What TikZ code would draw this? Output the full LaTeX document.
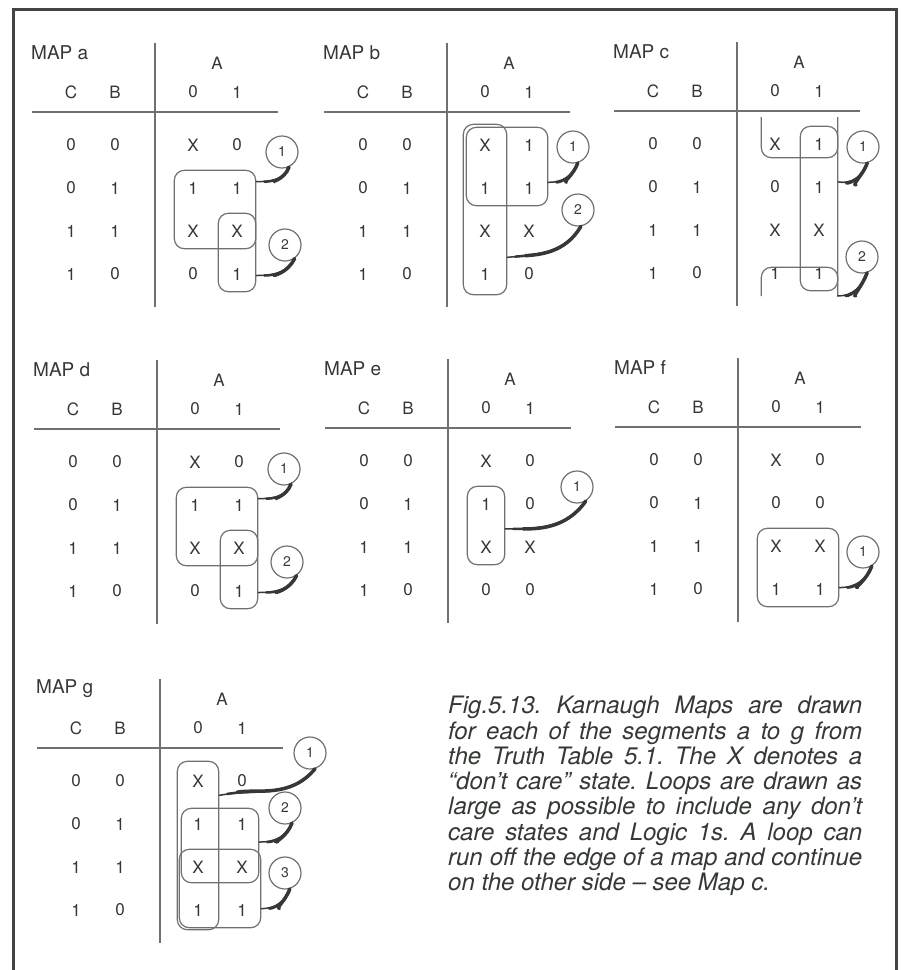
\documentclass[tikz,border=0pt]{standalone}
\usepackage{fontspec}
\setmainfont{TeX Gyre Heros}
\usepackage{tikz}
\usetikzlibrary{fit,calc}
\definecolor{inkgray}{HTML}{343934}
\definecolor{linegray}{HTML}{6E726E}
\definecolor{framegray}{HTML}{3F473F}
\newcommand{\tabfont}{\fontsize{17}{20}\selectfont}
\newcommand{\titlefont}{\fontsize{19}{22}\selectfont}
\newcommand{\tagfont}{\fontsize{14}{16}\selectfont}
\newcommand{\capfont}{\fontsize{24}{25.3}\selectfont\itshape\frenchspacing}

% #1 map letter, (#2,#3) where the divider meets the rule, #4 cell values row by row
\newcommand{\kmap}[4]{%
  \node[maptitle] (#1-title) at (#2-124,#3-59) {MAP #1};
  \node[hdr] (#1-A) at (#2+62,#3-49) {A};
  \node[hdr] (#1-C) at (#2-84,#3-20) {C};
  \node[hdr] (#1-B) at (#2-40,#3-20) {B};
  \node[hdr] (#1-h0) at (#2+38,#3-20) {0};
  \node[hdr] (#1-h1) at (#2+82,#3-20) {1};
  \draw[tabline] (#2-123,#3) -- (#2+123,#3);
  \draw[tabline] (#2,#3-69) -- (#2,#3+195);
  \foreach \cc/\bb [count=\row from 0] in {0/0,0/1,1/1,1/0} {
    \node[hdr] (#1-c\row) at (#2-84,#3+33+43*\row) {\cc};
    \node[hdr] (#1-b\row) at (#2-40,#3+33+43*\row) {\bb};
  }
  \foreach \p/\q [count=\row from 0] in {#4} {
    \node[kcell] (#1-\row-0) at (#2+38,#3+33+43*\row) {\p};
    \node[kcell] (#1-\row-1) at (#2+82,#3+33+43*\row) {\q};
  }
}

\begin{document}
\begin{tikzpicture}[x=1pt,y=-1pt,
  hdr/.style={text=inkgray,font=\tabfont,inner sep=0},
  kcell/.style={hdr,minimum width=37,minimum height=35},
  maptitle/.style={hdr,font=\titlefont,anchor=west},
  tabline/.style={linegray,line width=1.3},
  loopbox/.style={draw=linegray,line width=1.2,rounded corners=10,inner sep=0},
  loopline/.style={linegray,line width=1.2,rounded corners=10},
  tagc/.style={draw=linegray,line width=1.2,circle,minimum size=32,inner sep=0,text=inkgray,font=\tagfont},
  lead/.style={inkgray,line width=1.5,line cap=round,
    postaction={draw,line width=2.5,shorten <=8},
    postaction={draw,line width=3.5,shorten <=18}},
  border/.style={framegray,line width=3},
  capt/.style={text=inkgray,font=\capfont,text width=414,align=justify,inner sep=0}]
  \useasboundingbox (0,0) rectangle (902,970);
  \draw[border] (13,970) -- (13,9) -- (896,9) -- (896,970);

  % top row
  \kmap{a}{155}{112}{X/0,1/1,X/X,0/1}
  \node[loopbox,fit=(a-1-0)(a-2-1)] (a-l1) {};
  \node[loopbox,fit=(a-2-1)(a-3-1)] (a-l2) {};
  \node[tagc] (a-t1) at (282,152) {1};
  \node[tagc] (a-t2) at (285,245) {2};
  \draw[lead] (a-l1.34) to[out=0,in=-110] (a-t1.-65);
  \draw[lead] (a-l2.-50) to[out=0,in=-115] (a-t2.-55);

  \kmap{b}{447}{112}{X/1,1/1,X/X,1/0}
  \node[loopbox,fit=(b-0-0)(b-1-1)] (b-l1) {};
  \node[loopbox,inner sep=3,fit=(b-0-0)(b-3-0)] (b-l2) {};
  \node[tagc] (b-t1) at (573,147) {1};
  \node[tagc] (b-t2) at (578,210) {2};
  \draw[lead] (b-l1.-21) to[out=0,in=-110] (b-t1.-73);
  \draw[lead] (b-l2.-65) to[out=5,in=-120] (b-t2.-80);

  \kmap{c}{737}{111}{X/1,0/1,X/X,1/1}
  \node[loopbox,fit=(c-0-1)(c-3-1)] (c-l1) {};
  \draw[loopline] ($(c-0-0.west)+(5,-27)$) -- ($(c-0-0.south west)+(5,-4)$)
    -- ($(c-0-1.south east)+(0,-4)$) -- ($(c-0-1.east)+(0,-27)$);
  \coordinate (c-w2) at ($(c-3-1.east)+(0,23)$);
  \draw[loopline] ($(c-3-0.west)+(5,23)$) -- ($(c-3-0.north west)+(5,12)$)
    -- ($(c-3-1.north east)+(0,12)$) -- (c-w2);
  \node[tagc] (c-t1) at (863,147) {1};
  \node[tagc] (c-t2) at (862,257) {2};
  \draw[lead] (c-l1.54) to[out=-10,in=-110] (c-t1.-75);
  \draw[lead] (c-w2) to[out=0,in=-110] (c-t2.-72);

  % middle row
  \kmap{d}{157}{429}{X/0,1/1,X/X,0/1}
  \node[loopbox,fit=(d-1-0)(d-2-1)] (d-l1) {};
  \node[loopbox,fit=(d-2-1)(d-3-1)] (d-l2) {};
  \node[tagc] (d-t1) at (284,469) {1};
  \node[tagc] (d-t2) at (287,562) {2};
  \draw[lead] (d-l1.34) to[out=0,in=-110] (d-t1.-65);
  \draw[lead] (d-l2.-50) to[out=0,in=-115] (d-t2.-55);

  \kmap{e}{448}{428}{X/0,1/0,X/X,0/0}
  \node[loopbox,fit=(e-1-0)(e-2-0)] (e-l1) {};
  \node[tagc] (e-t1) at (577,487) {1};
  \draw[lead] (e-l1.-10) to[out=0,in=-125] (e-t1.-58);

  \kmap{f}{738}{427}{X/0,0/0,X/X,1/1}
  \node[loopbox,fit=(f-2-0)(f-3-1)] (f-l1) {};
  \node[tagc] (f-t1) at (863,552) {1};
  \draw[lead] (f-l1.-26) to[out=0,in=-110] (f-t1.-58);

  % bottom row
  \kmap{g}{160}{748}{X/0,1/1,X/X,1/1}
  \node[loopbox,inner sep=2,fit=(g-0-0)(g-3-0)] (g-l1) {};
  \node[loopbox,inner sep=-2,fit=(g-1-0)(g-2-1)] (g-l2) {};
  \node[loopbox,fit=(g-2-0)(g-3-1)] (g-l3) {};
  \node[tagc] (g-t1) at (310,753) {1};
  \node[tagc] (g-t2) at (285,808) {2};
  \node[tagc] (g-t3) at (285,873) {3};
  \draw[lead] (g-l1.67) to[out=10,in=-130] (g-t1.-72);
  \draw[lead] (g-l2.5) to[out=0,in=-110] (g-t2.-65);
  \draw[lead] (g-l3.-26) to[out=0,in=-110] (g-t3.-73);

  \node[capt,anchor=north west] (cap) at (448,696) {Fig.5.13. Karnaugh Maps are drawn\linebreak
    for each of the segments a to g from\linebreak
    the Truth Table 5.1. The X denotes a\linebreak
    ``don't care'' state. Loops are drawn as\linebreak
    large as possible to include any don't\linebreak
    care states and Logic 1s. A loop can\linebreak
    run off the edge of a map and continue\linebreak
    on the other side -- see Map c.};
\end{tikzpicture}
\end{document}
